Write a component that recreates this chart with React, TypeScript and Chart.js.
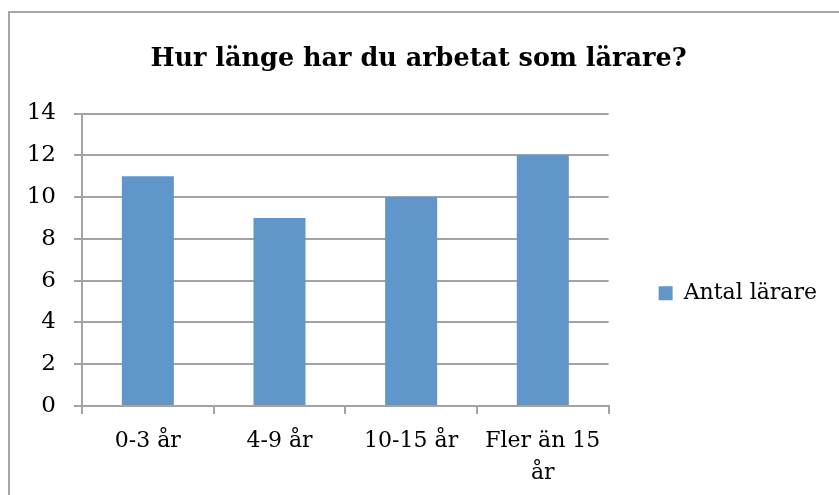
import React, { useEffect, useRef } from "react";
import { Chart, registerables } from "chart.js";

Chart.register(...registerables);

const categories: (string | string[])[] = ["0-3 år", "4-9 år", "10-15 år", ["Fler än 15", "år"]];
const seriesName = "Antal lärare";
const seriesValues = [11, 9, 10, 12];
const chartTitle = "Hur länge har du arbetat som lärare?";
const yMin = 0;
const yMax = 14;
const yStep = 2;

const FONT = "'DejaVu Serif', serif";
const GRID = "#a3a3a3";
const BAR = "#6096c9";

export default function App() {
  const ref = useRef<HTMLCanvasElement | null>(null);

  useEffect(() => {
    if (!ref.current) return;
    const chart = new Chart(ref.current, {
      type: "bar",
      data: {
        labels: categories,
        datasets: [
          {
            label: seriesName,
            data: seriesValues,
            backgroundColor: BAR,
            borderWidth: 0,
            categoryPercentage: 1,
            barPercentage: 0.395,
          },
        ],
      },
      options: {
        responsive: false,
        animation: false,
        layout: { padding: { left: 0, right: 12, top: 0, bottom: 0 } },
        plugins: {
          title: {
            display: true,
            text: chartTitle,
            color: "#000",
            font: { family: FONT, size: 25.5, weight: "bold", lineHeight: 1.2 },
            padding: { top: 30.7, bottom: 39.2 },
          },
          legend: {
            display: true,
            position: "right",
            fullSize: false,
            maxWidth: 260,
            title: { display: true, text: "", font: { size: 10, lineHeight: 1 }, padding: { top: 57, bottom: 0 } },
            labels: {
              color: "#000",
              font: { family: FONT, size: 22 },
              boxWidth: 14,
              boxHeight: 14,
              padding: 50,
            },
          },
          tooltip: { enabled: false },
        },
        scales: {
          x: {
            afterFit: (s: any) => { s.height = 89; },
            grid: {
              display: true,
              offset: true,
              drawOnChartArea: false,
              drawTicks: true,
              tickLength: 8,
              color: GRID,
              lineWidth: 2,
            },
            border: { display: true, color: GRID, width: 2 },
            ticks: {
              color: "#000",
              font: { family: FONT, size: 22, lineHeight: 1.45 },
              padding: 11,
              maxRotation: 0,
              autoSkip: false,
            },
          },
          y: {
            min: yMin,
            max: yMax,
            afterFit: (s: any) => { s.width = 72; },
            grid: {
              color: GRID,
              lineWidth: 2,
              drawTicks: true,
              tickLength: 8,
            },
            border: { display: true, color: GRID, width: 2 },
            ticks: {
              stepSize: yStep,
              color: "#000",
              font: { family: FONT, size: 23 },
              padding: 18,
            },
          },
        },
      },
    } as any);
    return () => chart.destroy();
  }, []);

  return (
    <div
      style={{
        position: "fixed",
        left: 8,
        top: 11,
        width: 829,
        height: 482,
        borderLeft: "2px solid #a6a6a6",
        borderTop: "2px solid #a6a6a6",
        overflow: "hidden",
        background: "#fff",
      }}
    >
      <canvas ref={ref} width={829} height={482} style={{ display: "block" }} />
    </div>
  );
}
